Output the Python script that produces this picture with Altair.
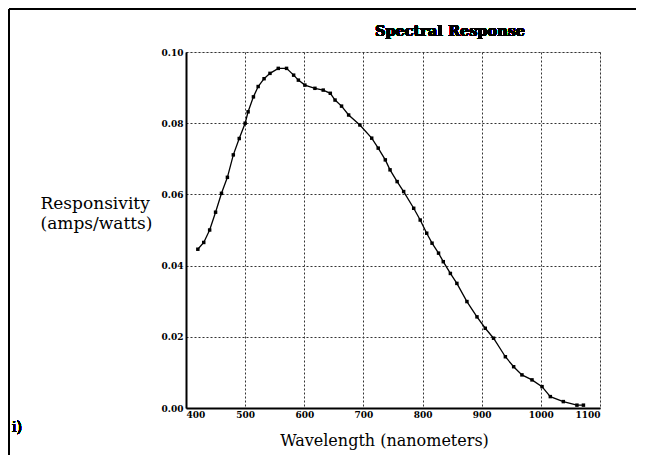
import altair as alt
import pandas as pd

# Data
wavelength = [420, 430, 440, 450, 460, 470, 480, 490, 500, 505, 514, 522, 532, 542,
              556, 570, 582, 590, 601, 618, 632, 644, 652, 663, 675, 694, 714, 725,
              737, 745, 757, 768, 785, 796, 807, 816, 827, 835, 847, 858, 875, 892,
              906, 920, 940, 954, 968, 985, 1002, 1016, 1038, 1061, 1072]
responsivity = [0.0446, 0.0465, 0.0500, 0.0550, 0.0603, 0.0648, 0.0711, 0.0757, 0.0800,
                0.0832, 0.0874, 0.0903, 0.0925, 0.0940, 0.0954, 0.0954, 0.0935, 0.0921,
                0.0907, 0.0898, 0.0893, 0.0884, 0.0865, 0.0848, 0.0823, 0.0795, 0.0758,
                0.0730, 0.0697, 0.0669, 0.0636, 0.0608, 0.0561, 0.0528, 0.0491, 0.0463,
                0.0435, 0.0411, 0.0378, 0.0350, 0.0299, 0.0256, 0.0224, 0.0196, 0.0144,
                0.0116, 0.0093, 0.0079, 0.0060, 0.0032, 0.0018, 0.0008, 0.0008]

x_ticks = [400, 500, 600, 700, 800, 900, 1000, 1100]
y_ticks = [0.00, 0.02, 0.04, 0.06, 0.08, 0.10]

title_text = "Spectral Response"
y_title = ["Responsivity", "(amps/watts)"]
x_title = "Wavelength (nanometers)"
corner_text = "i)"

df = pd.DataFrame({"wavelength": wavelength, "responsivity": responsivity})

FONT = "DejaVu Serif"

x_enc = alt.X(
    "wavelength:Q",
    scale=alt.Scale(domain=[400, 1100], nice=False, zero=False),
    axis=alt.Axis(
        values=x_ticks, format="d", title=x_title,
        labelFont=FONT, labelFontSize=9, labelFontWeight="bold", labelColor="black",
        labelPadding=2, ticks=False,
        domainColor="black", domainWidth=2,
        grid=True, gridColor="#333333", gridDash=[2, 2], gridWidth=1,
        titleFont=FONT, titleFontSize=16, titleFontWeight="normal", titleColor="black",
        titleX=198, titleY=32, titleBaseline="middle", titleAlign="center",
    ),
)
y_enc = alt.Y(
    "responsivity:Q",
    scale=alt.Scale(domain=[0, 0.10], nice=False),
    axis=alt.Axis(
        values=y_ticks, format=".2f", title=y_title,
        labelFont=FONT, labelFontSize=9, labelFontWeight="bold", labelColor="black",
        labelPadding=3, ticks=False,
        domainColor="black", domainWidth=2,
        grid=True, gridColor="#333333", gridDash=[2, 2], gridWidth=1,
        titleFont=FONT, titleFontSize=17, titleFontWeight="normal", titleColor="black",
        titleAngle=0, titleAlign="left", titleBaseline="middle",
        titleX=-146, titleY=151, titleLineHeight=20,
    ),
)

line = alt.Chart(df).mark_line(color="black", strokeWidth=1.3).encode(x=x_enc, y=y_enc)
points = alt.Chart(df).mark_square(color="black", size=12, opacity=1).encode(
    x="wavelength:Q", y="responsivity:Q")

frame_left = alt.Chart(df).mark_rule(color="black", strokeWidth=2).encode(
    x=alt.value(-177), y=alt.value(-43), y2=alt.value(403))
frame_top = alt.Chart(df).mark_rule(color="black", strokeWidth=2).encode(
    x=alt.value(-177), x2=alt.value(450), y=alt.value(-43))
corner = alt.Chart(df).mark_text(font=FONT, fontSize=14, color="black").encode(
    x=alt.value(-169), y=alt.value(376), text=alt.value(corner_text))
title = alt.Chart(df).mark_text(
    font=FONT, fontSize=14.5, fontWeight="bold", color="black",
    align="center", baseline="middle",
).encode(x=alt.value(264), y=alt.value(-20), text=alt.value(title_text))

chart = alt.layer(frame_left, frame_top, line, points, corner, title).properties(
    width=414, height=356,
    padding={"left": 178, "top": 44, "right": 44, "bottom": 47},
    autosize=alt.AutoSizeParams(type="none"),
).configure_view(stroke=None).configure(background="white")

chart.save("out.html", embed_options={"renderer": "svg", "actions": False})
